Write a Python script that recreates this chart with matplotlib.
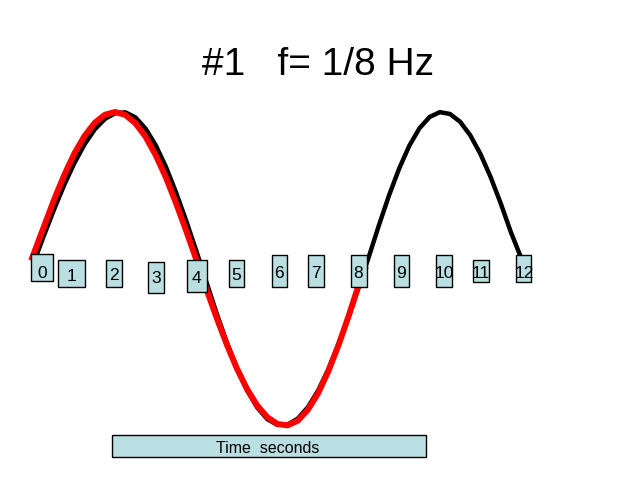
"""Sketch of a slide: a 1/8 Hz sine wave drawn over numbered time boxes."""

import matplotlib

matplotlib.use("Agg")
import matplotlib.pyplot as plt
from matplotlib.patches import Rectangle

# data (amplitude in units of the peak height)
black_t = [0.0, 0.25, 0.5, 0.75, 1.0, 1.25, 1.5, 1.75, 2.0, 2.25, 2.5, 2.75,
           3.0, 3.25, 3.5, 3.75, 4.0, 4.25, 4.5, 4.75, 5.0, 5.25, 5.5, 5.75,
           6.0, 6.25, 6.5, 6.75, 7.0, 7.25, 7.5, 7.75, 8.0, 8.25, 8.5, 8.75,
           9.0, 9.25, 9.5, 9.75, 10.0, 10.25, 10.5, 10.75, 11.0, 11.25, 11.5,
           11.75, 12.0]
black_v = [0.0, 0.180, 0.354, 0.517, 0.662, 0.786, 0.885, 0.954, 0.992,
           0.998, 0.964, 0.889, 0.778, 0.635, 0.464, 0.275, 0.074,
           -0.135, -0.342, -0.535, -0.709, -0.855, -0.970, -1.048, -1.086,
           -1.084, -1.044, -0.968, -0.857, -0.717, -0.552, -0.368, -0.170,
           0.034, 0.245, 0.445, 0.624, 0.776, 0.892, 0.967, 0.999,
           0.987, 0.935, 0.845, 0.721, 0.568, 0.392, 0.200, 0.03]
red_t = [-0.07, 0.25, 0.5, 0.75, 1.0, 1.25, 1.5, 1.75, 2.0, 2.25, 2.5, 2.75,
         3.0, 3.25, 3.5, 3.75, 4.0, 4.25, 4.5, 4.75, 5.0, 5.25, 5.5, 5.75,
         6.0, 6.25, 6.5, 6.75, 7.0, 7.25, 7.5, 7.75, 8.0, 8.18]
red_v = [0.01, 0.240, 0.419, 0.583, 0.726, 0.842, 0.929, 0.982, 1.0,
         0.981, 0.925, 0.835, 0.712, 0.564, 0.393, 0.208, 0.016,
         -0.181, -0.371, -0.549, -0.710, -0.847, -0.957, -1.035, -1.080,
         -1.089, -1.058, -0.985, -0.875, -0.730, -0.557, -0.363, -0.154, -0.03]
tick_labels = [str(i) for i in range(13)]
title = "#1   f= 1/8 Hz"
axis_label = "Time  seconds"

# layout, in pixels from the top-left of a 638x479 canvas
W, H = 638, 479
label_boxes = [  # x0, y0, x1, y1
    (31, 254, 53, 281), (58, 260, 85, 287), (106, 260, 122, 287),
    (148, 262, 164, 293), (187, 260, 207, 292), (229, 260, 244, 287),
    (272, 255, 287, 287), (308, 255, 324, 287), (351, 255, 367, 287),
    (394, 255, 409, 287), (436, 255, 452, 287), (473, 260, 489, 282),
    (516, 255, 531, 282),
]
label_baselines = [(42, 278), (71, 281), (114, 280), (156, 283), (196, 283),
                   (236, 280), (279, 278), (316, 278), (358, 278), (401, 278),
                   (444, 278), (481, 278), (524, 278)]
boxes_on_top = {8, 12}
BOX_FILL = "#b9dfe3"
FONT = "Liberation Sans"


def fx(px):
    return px / W


def fy(py):
    return 1 - py / H


fig = plt.figure(figsize=(6.38, 4.79), dpi=100)
ax = fig.add_axes([0, 0, 1, 1])
ax.set_axis_off()
# t = 0 sits at x=34 px, 40.58 px per second; zero line at y=262 px, 150 px per unit
px_per_t, x0 = 40.58, 34
px_per_v, y0 = 150, 262
ax.set_xlim(-x0 / px_per_t, (W - x0) / px_per_t)
ax.set_ylim((y0 - H) / px_per_v, y0 / px_per_v)

ax.plot(black_t, black_v, color="black", lw=3.2, solid_capstyle="butt",
        solid_joinstyle="round", zorder=3)
ax.plot(red_t, red_v, color="#ff0000", lw=4.3, solid_capstyle="butt",
        solid_joinstyle="round", zorder=4)

for i, (label, (bx0, by0, bx1, by1), (cx, cy)) in enumerate(
        zip(tick_labels, label_boxes, label_baselines)):
    z = 5 if i in boxes_on_top else 2
    fig.add_artist(Rectangle((fx(bx0), fy(by1)), fx(bx1 - bx0), (by1 - by0) / H,
                             transform=fig.transFigure, facecolor=BOX_FILL,
                             edgecolor="black", lw=1.0, zorder=z))
    fig.text(fx(cx), fy(cy), label, ha="center", va="baseline", fontsize=12.5,
             family=FONT, zorder=z + 0.5)

fig.add_artist(Rectangle((fx(112), fy(457)), fx(426 - 112), (457 - 435) / H,
                         transform=fig.transFigure, facecolor=BOX_FILL,
                         edgecolor="black", lw=1.0, zorder=2))
fig.text(fx(268), fy(453), axis_label, ha="center", va="baseline",
         fontsize=11.5, family=FONT, zorder=3)

fig.text(fx(318), fy(75), title, ha="center", va="baseline", fontsize=28,
         family=FONT)

fig.savefig("out.png", dpi=100)
